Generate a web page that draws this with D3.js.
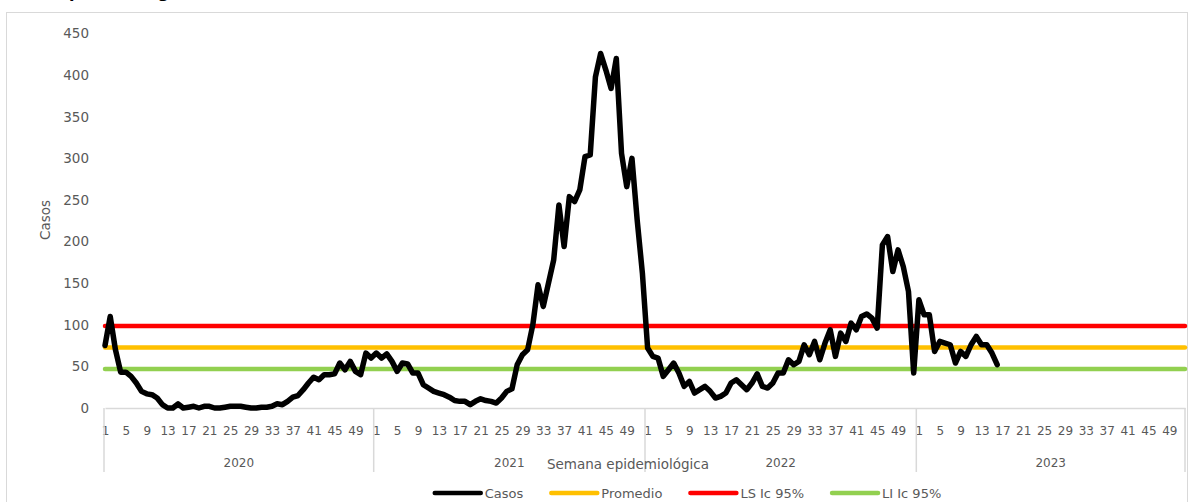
<!DOCTYPE html>
<html>
<head>
<meta charset="utf-8">
<script src="https://cdn.jsdelivr.net/npm/d3@7"></script>
<style>
  body { margin: 0; background: #fff; }
  text { font-family: "DejaVu Sans", sans-serif; fill: #595959; }
</style>
</head>
<body>
<svg width="1191" height="502"></svg>
<script>
// datos (casos por semana epidemiologica)
var years = ["2020", "2021", "2022", "2023"];
var casos2020 = [75, 110, 70, 43, 43, 38, 30, 20, 17, 16, 12, 4, 0, 0, 5, 0, 1, 2, 0, 2,
                 2, 0, 0, 1, 2, 2, 2, 1, 0, 0, 1, 1, 2, 5, 4, 8, 13, 15, 22, 30,
                 37, 34, 40, 40, 41, 54, 46, 56, 44, 40, 66, 60];
var casos2021 = [66, 60, 65, 56, 44, 54, 53, 42, 42, 28, 24, 20, 18, 16, 13, 9, 8, 8, 4, 8,
                 11, 9, 8, 6, 12, 20, 23, 52, 64, 70, 100, 148, 122, 150, 178, 244, 194, 254, 248, 262,
                 302, 304, 398, 426, 406, 384, 420, 306, 266, 300, 226, 162];
var casos2022 = [72, 62, 60, 38, 46, 54, 42, 26, 32, 18, 22, 26, 20, 12, 14, 18, 30, 34, 28, 22,
                 30, 41, 26, 24, 30, 42, 42, 58, 52, 56, 76, 64, 80, 58, 78, 94, 62, 90, 80, 102,
                 94, 110, 113, 108, 96, 196, 206, 164, 190, 170, 140, 42];
var casos2023 = [130, 112, 112, 68, 80, 78, 76, 54, 68, 62, 76, 86, 76, 76, 66, 52];
var promedio = 72.7;
var lsIc = 98.6;
var liIc = 46.8;
var yTicks = [0, 50, 100, 150, 200, 250, 300, 350, 400, 450];
var weekTicks = [1, 5, 9, 13, 17, 21, 25, 29, 33, 37, 41, 45, 49];
var legendNames = ["Casos", "Promedio", "LS Ic 95%", "LI Ic 95%"];
var colores = ["#000000", "#FFC000", "#FF0000", "#92D050"];

var config = {
  left: 105,
  right: 1185,
  top: 33.5,
  bottom: 408,
  weeks: 52
};

var svg = d3.select("svg");

// borde del area del grafico
svg.append("rect")
  .attr("x", 6.5).attr("y", 12.5)
  .attr("width", 1181).attr("height", 520)
  .attr("fill", "none").attr("stroke", "#d9d9d9");

// titulo (cortado arriba, como en el original)
var titulo = svg.append("text")
  .attr("y", -2)
  .style("font-size", "16px").style("font-weight", "bold").style("fill", "#000")
  .text("Curva epidemiológica");
var tmp = svg.append("text").style("font-size", "16px").style("font-weight", "bold").text("Curva e");
var wPre = tmp.node().getComputedTextLength();
tmp.remove();
titulo.attr("x", 69 - wPre);

var categorias = [];
years.forEach(function(yr) {
  for (var w = 1; w <= config.weeks; w++) categorias.push(yr + "-" + w);
});

var x = d3.scalePoint().domain(categorias).range([config.left, config.right]);
var y = d3.scaleLinear().domain([0, 450]).range([config.bottom, config.top]);
var step = x.step();

var casos = casos2020.concat(casos2021, casos2022, casos2023).map(function(v, i) {
  return { k: categorias[i], v: v };
});

// eje y
var yAxis = svg.append("g")
  .attr("transform", "translate(" + config.left + ",0)")
  .call(d3.axisLeft(y).tickValues(yTicks).tickSize(0).tickPadding(16));
yAxis.select(".domain").remove();
yAxis.selectAll("text").style("font-size", "13.5px").style("fill", "#595959")
  .style("font-family", "DejaVu Sans");

svg.append("text")
  .attr("transform", "translate(50,220) rotate(-90)")
  .attr("text-anchor", "middle")
  .style("font-size", "13.5px")
  .text("Casos");

// eje x (semanas)
var xAxis = svg.append("g")
  .attr("transform", "translate(0," + config.bottom + ")")
  .call(d3.axisBottom(x)
    .tickValues(categorias.filter(function(c) { return weekTicks.indexOf(+c.split("-")[1]) >= 0; }))
    .tickSize(0).tickPadding(18)
    .tickFormat(function(c) { return c.split("-")[1]; }));
xAxis.select(".domain").attr("stroke", "#d9d9d9").attr("stroke-width", 1.5);
xAxis.selectAll("text").style("font-size", "12px").style("fill", "#595959")
  .style("font-family", "DejaVu Sans");

// separadores de anio
var seps = [config.left - 1];
years.slice(1).forEach(function(yr) { seps.push(x(yr + "-1") - step / 2); });
seps.push(config.right);
svg.selectAll("line.sep")
  .data(seps)
  .enter().append("line")
  .attr("class", "sep")
  .attr("x1", function(d) { return d; }).attr("x2", function(d) { return d; })
  .attr("y1", config.bottom).attr("y2", 472)
  .attr("stroke", "#d9d9d9").attr("stroke-width", 1.5);

svg.selectAll("text.year")
  .data(years)
  .enter().append("text")
  .attr("class", "year")
  .attr("x", function(d, i) { return (seps[i] + seps[i + 1]) / 2; })
  .attr("y", 467)
  .attr("text-anchor", "middle")
  .style("font-size", "12px")
  .text(function(d) { return d; });

svg.append("text")
  .attr("x", 628).attr("y", 469)
  .attr("text-anchor", "middle")
  .style("font-size", "13.5px")
  .text("Semana epidemiológica");

// lineas de referencia
var refs = [promedio, lsIc, liIc];
var refColors = [colores[1], colores[2], colores[3]];
svg.selectAll("line.ref")
  .data(refs)
  .enter().append("line")
  .attr("class", "ref")
  .attr("x1", x(categorias[0])).attr("x2", x(categorias[categorias.length - 1]))
  .attr("y1", function(d) { return y(d); }).attr("y2", function(d) { return y(d); })
  .attr("stroke", function(d, i) { return refColors[i]; })
  .attr("stroke-width", 4.5)
  .attr("stroke-linecap", "round");

// casos
var linea = d3.line()
  .x(function(d) { return x(d.k); })
  .y(function(d) { return y(d.v); });

svg.append("path")
  .datum(casos)
  .attr("d", linea)
  .attr("fill", "none")
  .attr("stroke", "#000")
  .attr("stroke-width", 5.5)
  .attr("stroke-linejoin", "round")
  .attr("stroke-linecap", "round");

// leyenda
var keyW = 46, gapKey = 4, gapItem = 28, legY = 493;
var leg = svg.append("g");
var xPos = 0;
legendNames.forEach(function(name, i) {
  var g = leg.append("g").attr("transform", "translate(" + xPos + ",0)");
  g.append("line")
    .attr("x1", 0).attr("x2", keyW).attr("y1", legY).attr("y2", legY)
    .attr("stroke", colores[i]).attr("stroke-width", 4.5).attr("stroke-linecap", "round");
  var t = g.append("text")
    .attr("x", keyW + gapKey).attr("y", legY + 5)
    .style("font-size", "13px")
    .text(name);
  xPos += keyW + gapKey + t.node().getComputedTextLength() + gapItem;
});
var legW = xPos - gapItem;
leg.attr("transform", "translate(" + (688 - legW / 2) + ",0)");
</script>
</body>
</html>
